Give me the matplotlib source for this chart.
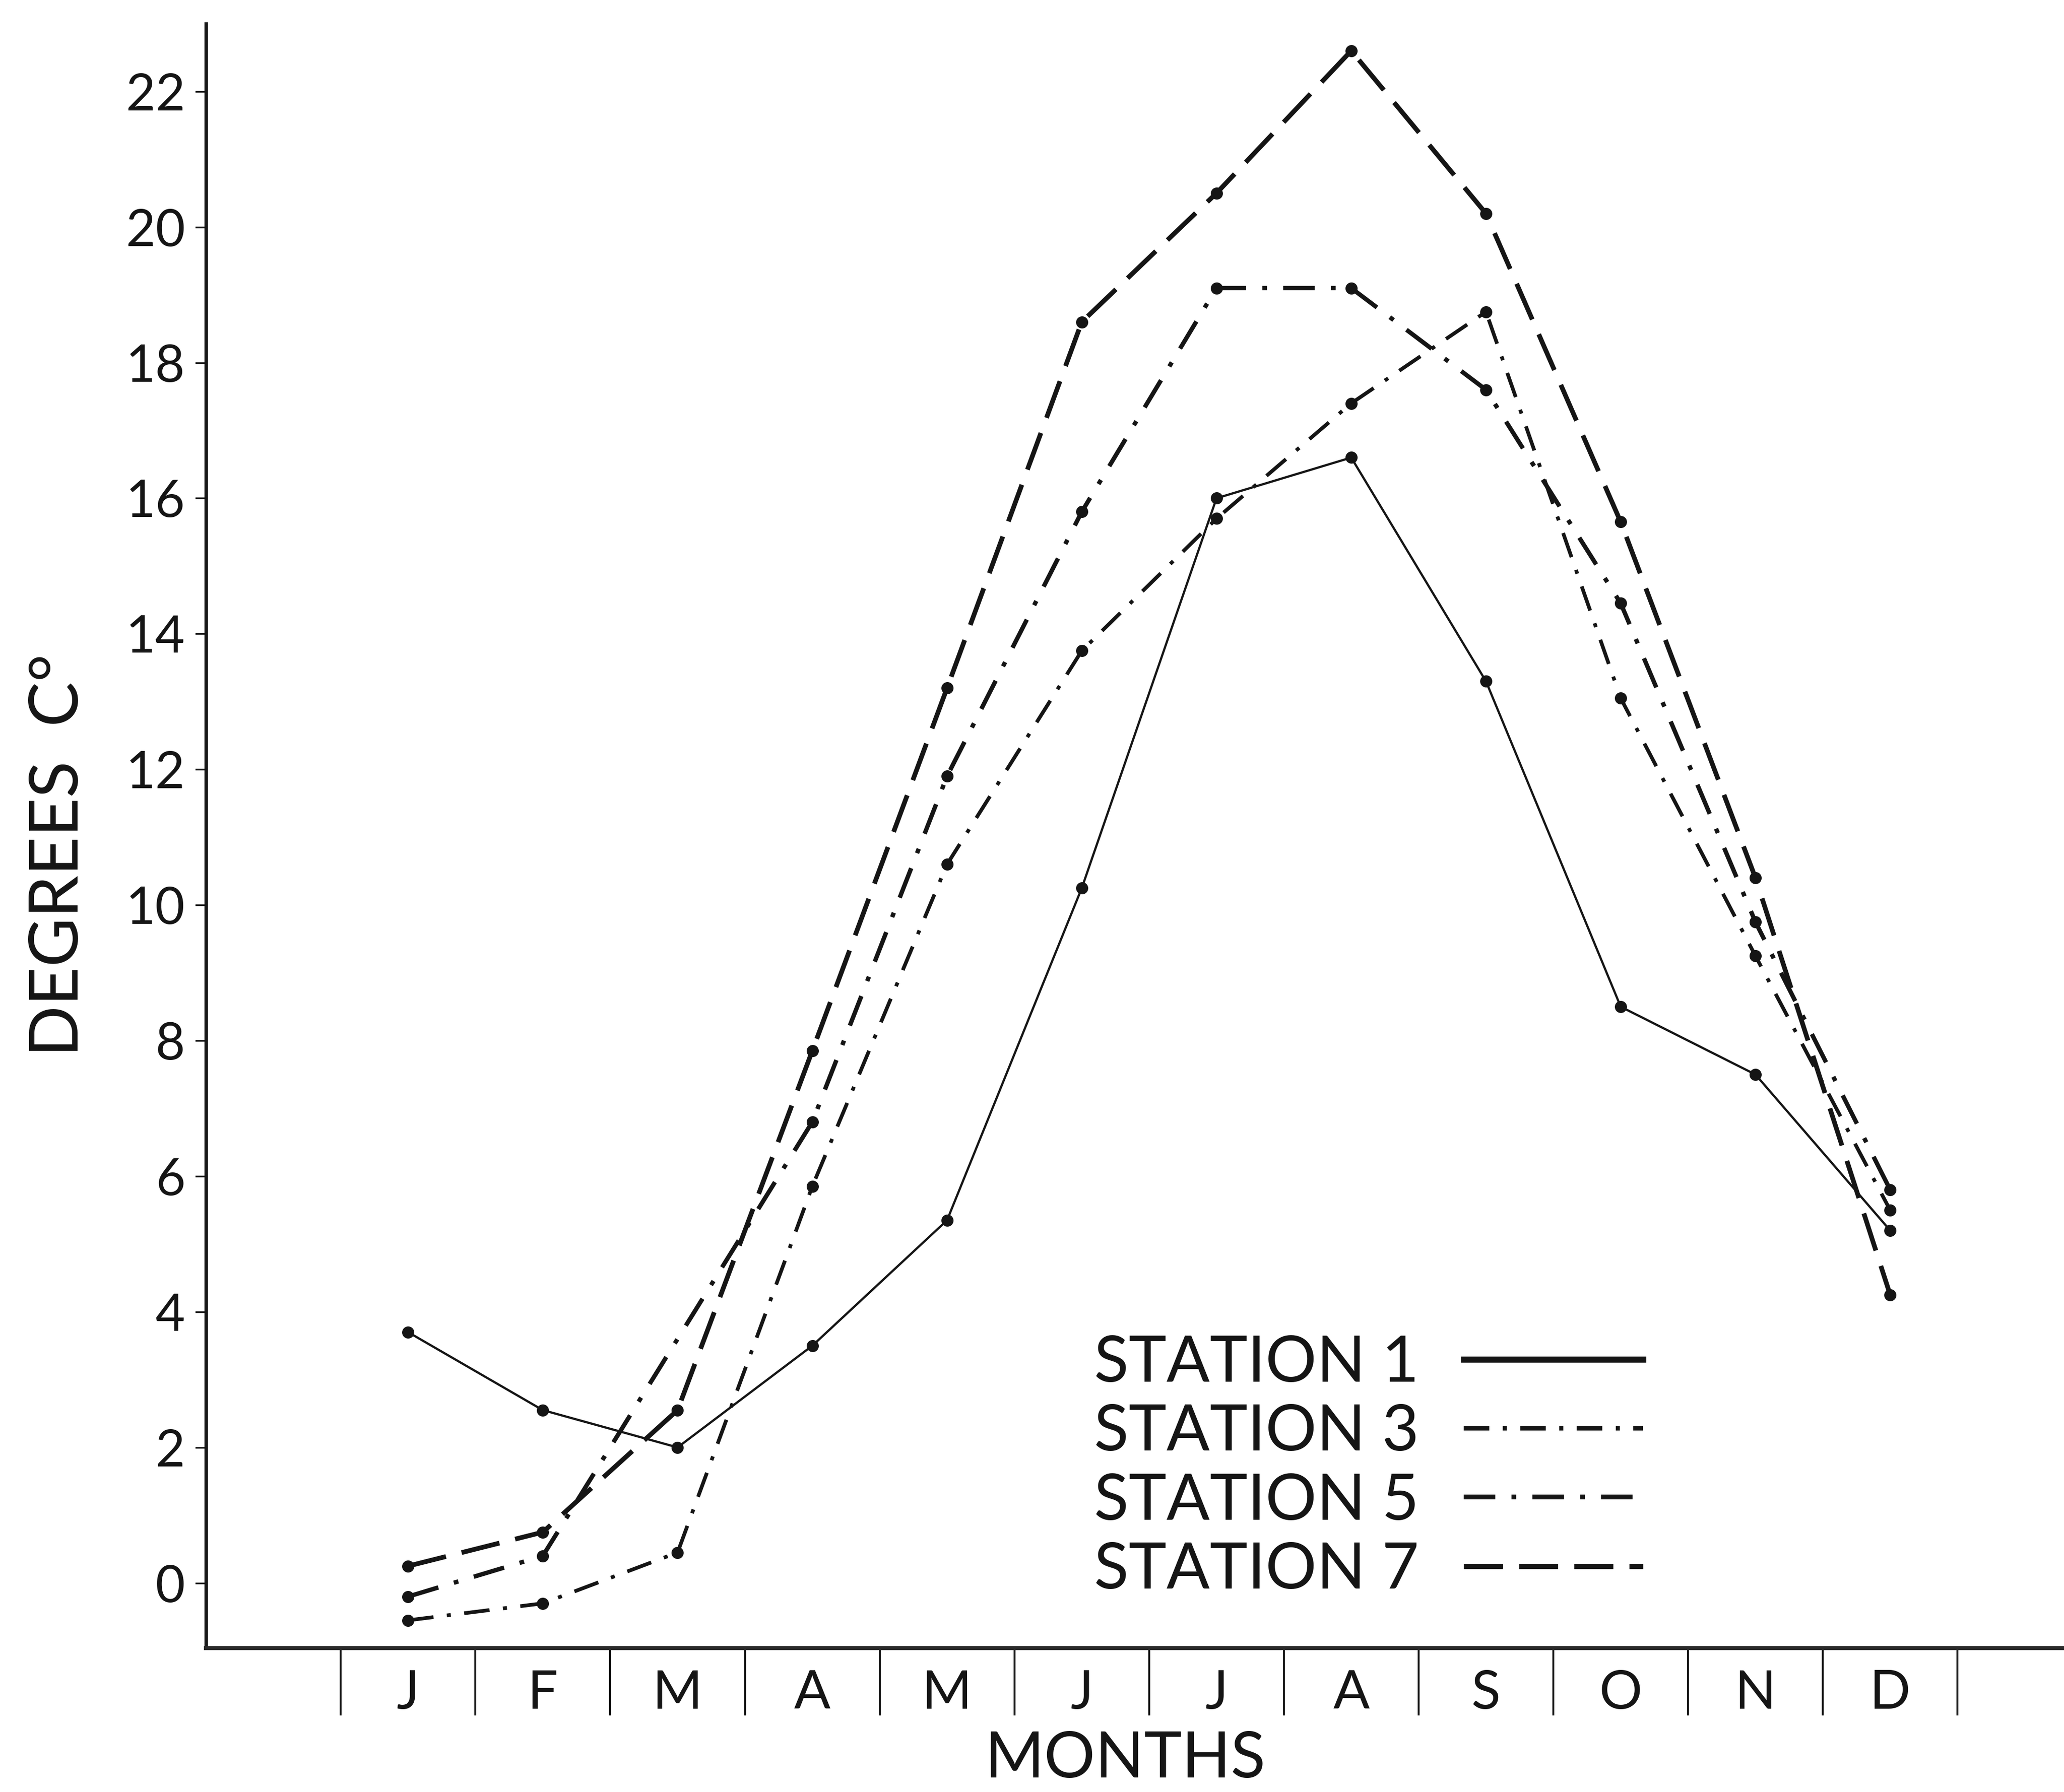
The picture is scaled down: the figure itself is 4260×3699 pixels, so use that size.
import matplotlib
matplotlib.use('Agg')
import matplotlib.pyplot as plt
from matplotlib.lines import Line2D
import numpy as np

plt.rcParams['font.family'] = ['Lato', 'DejaVu Sans']
plt.rcParams['lines.scale_dashes'] = False

# monthly mean temperatures, degrees C
months = ['J', 'F', 'M', 'A', 'M', 'J', 'J', 'A', 'S', 'O', 'N', 'D']
station_1 = [3.7, 2.55, 2.0, 3.5, 5.35, 10.25, 16.0, 16.6, 13.3, 8.5, 7.5, 5.2]
station_3 = [-0.55, -0.3, 0.45, 5.85, 10.6, 13.75, 15.7, 17.4, 18.75, 13.05, 9.25, 5.5]
station_5 = [-0.2, 0.4, 3.6, 6.8, 11.9, 15.8, 19.1, 19.1, 17.6, 14.45, 9.75, 5.8]
station_7 = [0.25, 0.75, 2.55, 7.85, 13.2, 18.6, 20.5, 22.6, 20.2, 15.65, 10.4, 4.25]
y_ticks = list(range(0, 23, 2))

x = np.arange(1, 13)
ink = '#151515'

fig = plt.figure(figsize=(42.6, 36.99), dpi=100)
ax = fig.add_axes([0.0998, 0.0803, 0.9002, 0.9065])

# (label, values, dashes, plot lw, legend lw, markevery)
series = [
    ('STATION 1', station_1, None, 3.3, 9, None),
    ('STATION 3', station_3, (38, 20, 6, 20), 5.5, 7, None),
    ('STATION 5', station_5, (47, 24, 7, 24), 6.5, 7, [0, 1, 3, 4, 5, 6, 7, 8, 9, 10, 11]),
    ('STATION 7', station_7, (58, 24), 7, 8, None),
]

handles = []
for label, vals, dashes, lw, leg_lw, every in series:
    ln, = ax.plot(x, vals, color=ink, lw=lw, marker='o', ms=17, mec=ink, mfc=ink,
                  markevery=every, clip_on=False, solid_capstyle='butt')
    h = Line2D([], [], color=ink, lw=leg_lw)
    if dashes is not None:
        ln.set_dashes(dashes)
        h.set_dashes(dashes)
    handles.append(h)

ax.set_xlim(-0.5, 13.29)
ax.set_ylim(-0.96, 23.0)

for s in ['top', 'right']:
    ax.spines[s].set_visible(False)
ax.spines['left'].set_linewidth(5)
ax.spines['bottom'].set_linewidth(6)
ax.spines['left'].set_color(ink)
ax.spines['bottom'].set_color('#2a2a2a')

ax.set_yticks(y_ticks)
ax.set_yticklabels([str(v) for v in y_ticks])
ax.tick_params(axis='y', direction='out', length=16, width=2.5, pad=15,
               labelsize=76, colors=ink)

# month letters centred between separator marks
ax.set_xticks(x)
ax.set_xticklabels(months)
ax.set_xticks(np.arange(0.5, 13, 1), minor=True)
ax.tick_params(axis='x', which='major', length=0, pad=32, labelsize=80, colors=ink)
ax.tick_params(axis='x', which='minor', direction='out', length=100, width=2.8, colors=ink)

fig.text(122 / 4260, 1 - 1765 / 3699, 'DEGREES  C°', rotation=90, ha='center', va='center',
         fontsize=100, color=ink)
fig.text(2323 / 4260, 1 - 3632 / 3699, 'MONTHS', ha='center', va='center',
         fontsize=95, color=ink)

ax.legend(handles, [s[0] for s in series], loc='upper left', bbox_to_anchor=(0.478, 0.193),
          frameon=False, markerfirst=False, prop={'size': 95},
          handlelength=2.8, handletextpad=0.7, labelspacing=0.17,
          borderpad=0, borderaxespad=0, labelcolor=ink)

fig.savefig('out.png', dpi=100, facecolor='white')
